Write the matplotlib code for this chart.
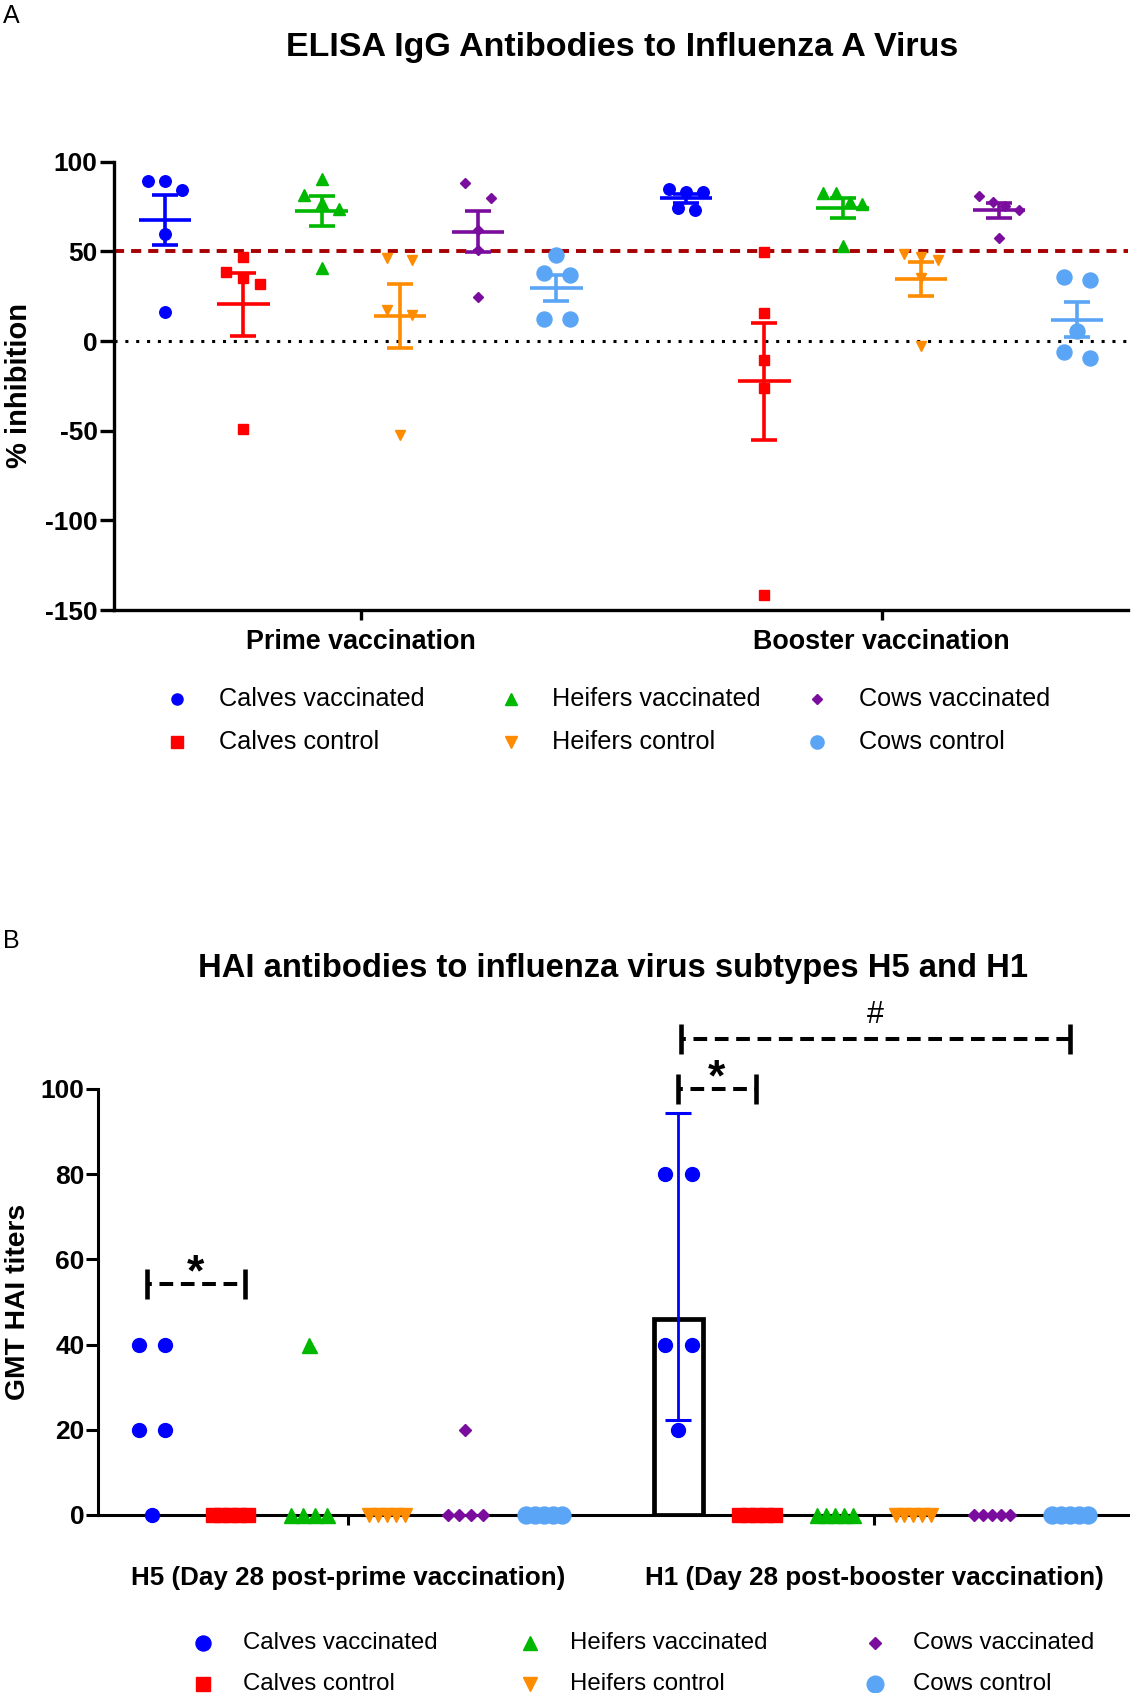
import numpy as np
import matplotlib
matplotlib.use('Agg')
import matplotlib.pyplot as plt
from matplotlib.lines import Line2D

plt.rcParams['font.family'] = ['Liberation Sans', 'DejaVu Sans']
plt.rcParams['axes.unicode_minus'] = False

# ---------------- data ----------------
groups = ['Calves vaccinated', 'Calves control', 'Heifers vaccinated',
          'Heifers control', 'Cows vaccinated', 'Cows control']
colors = ['#0000FF', '#FF0000', '#00B800', '#FF8B00', '#7B0D9E', '#5AA5F5']
markers = ['o', 's', '^', 'v', 'D', 'o']

# Panel A: ELISA % inhibition (5 animals per group)
elisa_labels = ['Prime vaccination', 'Booster vaccination']
elisa_prime = [
    [89.0, 89.0, 84.0, 59.7, 16.2],
    [46.6, 38.6, 35.1, 31.7, -48.9],
    [90.1, 81.5, 77.1, 73.7, 40.5],
    [46.1, 45.1, 17.2, 14.4, -52.2],
    [88.2, 79.9, 61.9, 50.6, 24.3],
    [48.1, 38.2, 36.8, 12.1, 12.1],
]
elisa_booster = [
    [84.7, 83.0, 83.0, 74.1, 73.3],
    [49.8, 15.7, -10.4, -26.1, -141.8],
    [82.5, 82.5, 77.8, 76.3, 52.8],
    [48.5, 46.6, 45.1, 35.0, -2.8],
    [80.6, 77.8, 75.2, 73.3, 57.3],
    [35.8, 34.0, 5.6, -6.0, -9.5],
]
elisa_cutoff = 50

# Panel B: HAI titers
hai_labels = ['H5 (Day 28 post-prime vaccination)', 'H1 (Day 28 post-booster vaccination)']
hai_h5 = [
    [40, 40, 20, 20, 0],
    [0, 0, 0, 0, 0],
    [40, 0, 0, 0, 0],
    [0, 0, 0, 0, 0],
    [20, 0, 0, 0, 0],
    [0, 0, 0, 0, 0],
]
hai_h1 = [
    [80, 80, 40, 40, 20],
    [0, 0, 0, 0, 0],
    [0, 0, 0, 0, 0],
    [0, 0, 0, 0, 0],
    [0, 0, 0, 0, 0],
    [0, 0, 0, 0, 0],
]

# ---------------- layout ----------------
W, H = 1131, 1693
fig = plt.figure(figsize=(W / 100, H / 100), dpi=100)


def fx(px):
    return px / W


def fy(py):
    return 1 - py / H


# jitter offsets for panel A (layout only)
offs_prime = [
    [-0.215, 0, 0.22, 0, 0],
    [0, -0.22, 0, 0.21, 0],
    [0, -0.22, 0, 0.22, 0],
    [-0.16, 0.16, -0.16, 0.16, 0],
    [-0.17, 0.17, 0, 0, 0],
    [0, -0.16, 0.17, -0.16, 0.17],
]
offs_booster = [
    [-0.22, 0, 0.22, -0.11, 0.11],
    [0, 0, 0, 0, 0],
    [-0.25, -0.09, 0.09, 0.25, 0],
    [-0.21, 0, 0.22, 0, 0],
    [-0.25, -0.08, 0.08, 0.25, 0],
    [-0.17, 0.17, 0, -0.17, 0.17],
]
ms_A = [8.3, 7.7, 8.0, 7.5, 5.2, 10.8]
ms_B = [10.0, 10.6, 10.8, 10.2, 6.3, 12.2]

SPINE = 2.4

# ================= Panel A =================
axA = fig.add_axes([fx(113.5), fy(610), fx(1128) - fx(113.5), fy(161.7) - fy(610)])
baseA = [0.0, 6.66]
for base, data, offs in zip(baseA, [elisa_prime, elisa_booster], [offs_prime, offs_booster]):
    for g in range(6):
        vals = np.array(data[g])
        x0 = base + g
        xs = x0 + np.array(offs[g])
        mean = vals.mean()
        sem = vals.std(ddof=1) / np.sqrt(len(vals))
        axA.plot(xs, vals, linestyle='none', marker=markers[g], ms=ms_A[g],
                 color=colors[g], mec=colors[g], zorder=5, clip_on=False)
        axA.plot([x0 - 0.335, x0 + 0.335], [mean, mean], color=colors[g], lw=2.6,
                 solid_capstyle='butt', zorder=4)
        axA.errorbar([x0], [mean], yerr=[sem], fmt='none', ecolor=colors[g],
                     elinewidth=2.6, capsize=9.2, capthick=2.6, zorder=4)

axA.axhline(elisa_cutoff, color='#A80000', lw=2.8, linestyle=(0, (2.6, 1.8)), zorder=2)
axA.axhline(0, color='black', lw=2.2, linestyle=(0, (1, 2.55)), zorder=2)

axA.set_xlim(-0.662, 12.31)
axA.set_ylim(-150, 100)
axA.set_yticks([-150, -100, -50, 0, 50, 100])
axA.set_xticks([baseA[0] + 2.5, baseA[1] + 2.5])
axA.set_xticklabels(elisa_labels)
for s in ['top', 'right']:
    axA.spines[s].set_visible(False)
for s in ['left', 'bottom']:
    axA.spines[s].set_linewidth(SPINE)
axA.tick_params(axis='y', length=10, width=SPINE, pad=1.5, labelsize=19)
axA.tick_params(axis='x', length=7, width=SPINE, pad=7, labelsize=19.4)
for lab in axA.get_xticklabels() + axA.get_yticklabels():
    lab.set_fontweight('bold')

fig.text(fx(19), fy(385), '% inhibition', rotation=90, ha='center', va='center',
         fontsize=21, fontweight='bold')
fig.text(fx(622), fy(47.5), 'ELISA IgG Antibodies to Influenza A Virus', ha='center',
         va='center', fontsize=24.5, fontweight='bold')
fig.text(fx(3), fy(16), 'A', ha='left', va='center', fontsize=18)

# legend A
legA_mx = [177, 177, 511, 511, 817, 817]
legA_tx = [219, 219, 552, 552, 859, 859]
legA_y = [699, 742, 699, 742, 699, 742]
legA_ms = [8, 8.5, 8, 8, 5.6, 9.5]
for g in range(6):
    fig.add_artist(Line2D([fx(legA_mx[g])], [fy(legA_y[g])], transform=fig.transFigure,
                          marker=markers[g], ms=legA_ms[g], color=colors[g], linestyle='none'))
    fig.text(fx(legA_tx[g]), fy(legA_y[g]), groups[g], ha='left', va='center', fontsize=18.2)

# ================= Panel B =================
axB = fig.add_axes([fx(98), fy(1515), fx(1128) - fx(98), fy(1089) - fy(1515)])
baseB = [0.0, 6.72]
T_4DF = 2.776  # t critical value, 95% CI, n = 5


def swarm_offsets(vals):
    vals = np.asarray(vals, float)
    offs = np.zeros(len(vals))
    for v in np.unique(vals):
        idx = np.where(vals == v)[0]
        n = len(idx)
        if n > 1:
            spread = 0.455 if v == 0 else 0.34
            offs[idx] = np.linspace(-spread / 2, spread / 2, n)
    return offs


for base, data in zip(baseB, [hai_h5, hai_h1]):
    for g in range(6):
        vals = np.array(data[g], float)
        x0 = base + g
        if np.all(vals > 0):
            lv = np.log(vals)
            gmt = np.exp(lv.mean())
            half = T_4DF * lv.std(ddof=1) / np.sqrt(len(vals))
            lo, hi = np.exp(lv.mean() - half), np.exp(lv.mean() + half)
            axB.bar([x0], [gmt], width=0.63, facecolor='none', edgecolor='black',
                    linewidth=3.4, zorder=2)
            axB.errorbar([x0], [gmt], yerr=[[gmt - lo], [hi - gmt]], fmt='none',
                         ecolor=colors[g], elinewidth=2.0, capsize=9.4, capthick=2.2,
                         zorder=3)
        xs = x0 + swarm_offsets(vals)
        axB.plot(xs, vals, linestyle='none', marker=markers[g], ms=ms_B[g],
                 color=colors[g], mec=colors[g], zorder=5, clip_on=False)

axB.set_xlim(-0.69, 12.46)
axB.set_ylim(0, 100)
axB.set_yticks([0, 20, 40, 60, 80, 100])
axB.set_xticks([baseB[0] + 2.5, baseB[1] + 2.5])
axB.set_xticklabels(hai_labels)
for s in ['top', 'right']:
    axB.spines[s].set_visible(False)
for s in ['left', 'bottom']:
    axB.spines[s].set_linewidth(2.2)
axB.tick_params(axis='y', length=8.3, width=2.2, pad=1.5, labelsize=19)
axB.tick_params(axis='x', length=7, width=2.2, pad=29.5, labelsize=18.7)
for lab in axB.get_xticklabels() + axB.get_yticklabels():
    lab.set_fontweight('bold')


def bracket(ax, x1, x2, y, half=3.5):
    ax.plot([x1, x2], [y, y], color='black', lw=2.9, linestyle=(2.2, (3.4, 1.9)),
            clip_on=False, zorder=6, solid_capstyle='butt', dash_capstyle='butt')
    for xx in (x1, x2):
        ax.plot([xx, xx], [y - half, y + half], color='black', lw=3.3, clip_on=False,
                zorder=6, solid_capstyle='butt')


bracket(axB, -0.06, 1.19, 54.2)
axB.text(0.56, 53.8, '*', ha='center', va='baseline', fontsize=32, fontweight='bold')
bracket(axB, 6.718, 7.705, 100.0)
axB.text(7.20, 99.6, '*', ha='center', va='baseline', fontsize=32, fontweight='bold')
bracket(axB, 6.75, 11.72, 111.7)
axB.text(9.23, 115.4, '#', ha='center', va='baseline', fontsize=22)

fig.text(fx(18), fy(1302), 'GMT HAI titers', rotation=90, ha='center', va='center',
         fontsize=20.3, fontweight='bold')
fig.text(fx(613), fy(969), 'HAI antibodies to influenza virus subtypes H5 and H1',
         ha='center', va='center', fontsize=23.6, fontweight='bold')
fig.text(fx(3), fy(941), 'B', ha='left', va='center', fontsize=18)

# legend B
legB_mx = [203, 203, 530, 530, 875, 875]
legB_tx = [243, 243, 570, 570, 913, 913]
legB_y = [1643, 1684, 1643, 1684, 1643, 1684]
legB_ms = [10.8, 9.4, 9.6, 9.6, 6.4, 12.0]
for g in range(6):
    fig.add_artist(Line2D([fx(legB_mx[g])], [fy(legB_y[g])], transform=fig.transFigure,
                          marker=markers[g], ms=legB_ms[g], color=colors[g], linestyle='none'))
    fig.text(fx(legB_tx[g]), fy(legB_y[g]), groups[g], ha='left', va='center', fontsize=17.3)

fig.savefig('out.png', dpi=100, facecolor='white')
